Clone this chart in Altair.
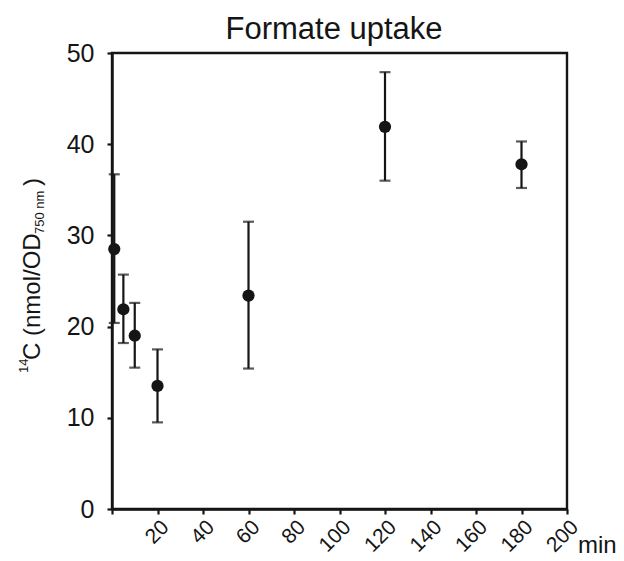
import altair as alt
import pandas as pd

# Formate uptake time course (mean ± error)
time_min = [1, 5, 10, 20, 60, 120, 180]
uptake = [28.5, 21.9, 19.0, 13.5, 23.4, 41.9, 37.8]
err_low = [20.4, 18.2, 15.5, 9.5, 15.4, 36.0, 35.2]
err_high = [36.7, 25.7, 22.6, 17.5, 31.5, 47.9, 40.3]

x_ticks = list(range(0, 201, 20))
y_ticks = list(range(0, 51, 10))

FONT = "Liberation Sans"
INK = "#151515"

df = pd.DataFrame({"time": time_min, "value": uptake, "lo": err_low, "hi": err_high})

x_enc = alt.X(
    "time:Q",
    scale=alt.Scale(domain=[0, 200], nice=False),
    axis=alt.Axis(
        values=x_ticks,
        labelExpr="datum.value == 0 ? '' : datum.label",
        labelAngle=-45,
        labelAlign="right",
        labelBaseline="top",
        labelFontSize=21,
        labelPadding=2,
        title=None,
        grid=False,
    ),
)
y_scale = alt.Scale(domain=[0, 50], nice=False)
y_axis = alt.Axis(values=y_ticks, labelFontSize=25, labelPadding=13, title=None, grid=False)

base = alt.Chart(df)

bars = base.mark_rule(color=INK, strokeWidth=2.2).encode(
    x=x_enc,
    y=alt.Y("lo:Q", scale=y_scale, axis=y_axis),
    y2="hi:Q",
)
cap_lo = base.mark_tick(color=INK, orient="horizontal", size=11, thickness=2.2).encode(
    x="time:Q", y="lo:Q"
)
cap_hi = base.mark_tick(color=INK, orient="horizontal", size=11, thickness=2.2).encode(
    x="time:Q", y="hi:Q"
)
dots = base.mark_point(filled=True, color=INK, opacity=1, size=150, shape="circle").encode(
    x="time:Q", y="value:Q"
)


def label(text, x, y, size, angle=0, align="left"):
    return alt.Chart(pd.DataFrame({"t": [text]})).mark_text(
        font=FONT, fontSize=size, color=INK, angle=angle, align=align, baseline="alphabetic"
    ).encode(x=alt.value(x), y=alt.value(y), text="t:N")


title = label("Formate uptake", 222, -14, 31, align="center")
unit = label("min", 466, 500, 24)

# y-axis title: ¹⁴C (nmol/OD₇₅₀ ₙₘ) assembled from pieces with super/subscripts
ytitle = [
    label("14", -84, 320, 13, angle=270),
    label("C (nmol/OD", -72, 307, 24, angle=270),
    label("750 nm", -68, 181, 13, angle=270),
    label(")", -72, 133, 24, angle=270),
]

chart = (
    alt.layer(bars, cap_lo, cap_hi, dots, title, unit, *ytitle)
    .properties(
        width=455,
        height=456,
        autosize=alt.AutoSizeParams(type="none"),
        padding={"left": 112, "top": 53, "right": 57, "bottom": 52},
        background="white",
    )
    .configure_view(stroke=INK, strokeWidth=2.4)
    .configure_axis(
        labelFont=FONT,
        labelColor=INK,
        domainColor=INK,
        domainWidth=2.4,
        tickColor=INK,
        tickWidth=2.2,
        tickSize=5,
    )
)

chart.save("out.html", embed_options={"renderer": "svg", "actions": False})
